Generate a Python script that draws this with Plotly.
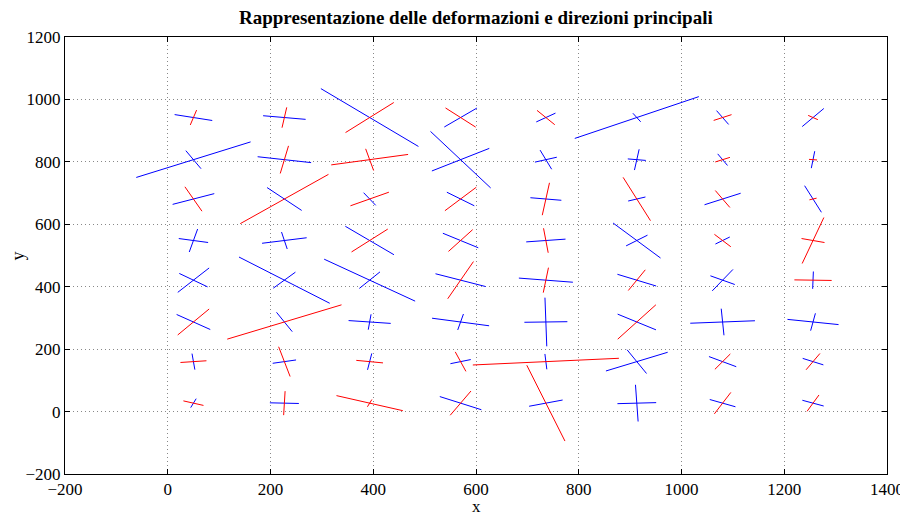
import numpy as np
import plotly.graph_objects as go

# grid nodes
X_NODES = [50, 227, 393, 570, 736, 913, 1080, 1256]
Y_NODES = [27, 160, 287, 421, 548, 681, 807, 942]

# principal direction angle (deg) of first direction, per row (bottom->top), per column
THETA = [
    [-20.4, -2.1, -20.5, -27.5, -73.0, 2.5, -25.0, -23.9],
    [6.1, -76.8, -8.9, 18.4, 4.3, 26.5, -31.4, -27.3],
    [-36.3, 26.3, -6.3, -12.3, 1.3, -34.0, 3.6, -9.5],
    [-38.0, -40.0, -37.2, -22.8, -7.2, -26.5, -30.4, -1.4],
    [-12.5, 11.5, -43.9, -34.0, 6.6, -50.5, 38.8, 74.0],
    [23.0, -47.4, 30.2, -39.1, -7.7, 21.0, 27.6, -69.0],
    [27.1, -10.3, 12.6, 32.9, 20.2, -7.8, -62.8, 83.0],
    [-14.5, -8.0, -44.3, 43.7, 37.0, 29.0, -62.0, 54.0],
]
# signed principal deformation 1 (along THETA), drawn length; + red, - blue
EPS1 = [
    [41.7, -56.4, 137.9, -91.2, 254.0, -75.5, -55.2, -45.4],
    [50.9, 97.9, 52.6, -41.7, 285.2, -134.3, -62.2, -45.3],
    [-81.3, 248.1, -82.5, -113.7, -83.7, -90.0, -126.2, -100.8],
    [-69.9, -230.5, -222.3, -105.9, -106.0, -84.3, -55.0, 72.6],
    [-58.5, -88.6, -131.3, -83.1, -77.0, -145.2, -35.9, 153.2],
    [-88.0, -99.5, 86.6, -68.8, -60.8, -36.0, -79.4, -91.2],
    [-250.0, -105.8, 153.3, -133.1, -45.4, -35.4, -41.8, -54.7],
    [-75.6, -83.6, -265.3, -87.7, -46.8, -276.1, -50.1, -71.6],
]
# signed principal deformation 2 (along THETA + 90)
EPS2 = [
    [-30.6, 76.9, 24.9, 87.5, -68.2, -117.7, 75.9, 57.2],
    [-51.6, -46.7, -53.2, 65.8, -49.3, -84.9, 57.7, 58.8],
    [103.3, -69.1, -49.6, -52.2, -156.0, 132.9, -85.4, -56.4],
    [-99.1, -67.0, -66.4, 129.2, 80.6, 74.1, -79.7, -55.5],
    [-75.4, -55.4, 101.6, 84.3, 79.0, -53.9, 50.9, 46.5],
    [84.9, 233.3, -46.7, 96.8, 104.6, 148.6, 61.2, 15.0],
    [-64.9, 89.9, 71.1, -215.7, -65.3, -67.2, 32.1, 15.9],
    [49.2, 65.8, 134.4, 85.0, 57.4, -31.3, 39.4, 23.3],
]

TITLE = "Rappresentazione delle deformazioni e direzioni principali"
X_LABEL = "x"
Y_LABEL = "y"

red_x, red_y, blue_x, blue_y = [], [], [], []
for r, cy in enumerate(Y_NODES):
    for c, cx in enumerate(X_NODES):
        th = np.deg2rad(THETA[r][c])
        for eps, ang in ((EPS1[r][c], th), (EPS2[r][c], th + np.pi / 2)):
            h = abs(eps) / 2.0
            dx, dy = h * np.cos(ang), h * np.sin(ang)
            xs = [cx - dx, cx + dx, None]
            ys = [cy - dy, cy + dy, None]
            if eps > 0:
                red_x += xs; red_y += ys
            else:
                blue_x += xs; blue_y += ys

fig = go.Figure()
fig.add_trace(go.Scatter(x=blue_x, y=blue_y, mode="lines",
                         line=dict(color="#0000ff", width=1), showlegend=False,
                         hoverinfo="skip"))
fig.add_trace(go.Scatter(x=red_x, y=red_y, mode="lines",
                         line=dict(color="#ff0000", width=1), showlegend=False,
                         hoverinfo="skip"))

font_family = "Liberation Serif, Times New Roman, serif"
axis_common = dict(
    showline=True, linecolor="black", linewidth=1, mirror="allticks",
    ticks="inside", ticklen=5, tickcolor="black",
    showgrid=True, gridcolor="#888888", griddash="1px,3px", gridwidth=1,
    zeroline=False, automargin=False,
    tickfont=dict(family=font_family, size=17, color="black"),
)
fig.update_xaxes(range=[-200, 1400], tick0=-200, dtick=200, **axis_common)
fig.update_yaxes(range=[-200, 1200], tick0=-200, dtick=200, **axis_common)

fig.update_layout(
    width=900, height=509,
    margin=dict(l=57, r=21, t=29, b=43),
    paper_bgcolor="white", plot_bgcolor="white",
    annotations=[
        dict(text="<b>" + TITLE + "</b>", xref="paper", yref="paper",
             x=0.5, y=1.0435, xanchor="center", yanchor="middle", showarrow=False,
             font=dict(family=font_family, size=19, color="black")),
        dict(text=X_LABEL, xref="paper", yref="paper",
             x=0.5, y=-0.0984, xanchor="center", yanchor="bottom", showarrow=False,
             borderpad=0,
             font=dict(family=font_family, size=17, color="black")),
        dict(text=Y_LABEL, xref="paper", yref="paper", textangle=-90,
             x=-0.0572, y=0.5, xanchor="center", yanchor="middle", showarrow=False,
             font=dict(family=font_family, size=18, color="black")),
    ],
)
fig.write_html("out.html")
